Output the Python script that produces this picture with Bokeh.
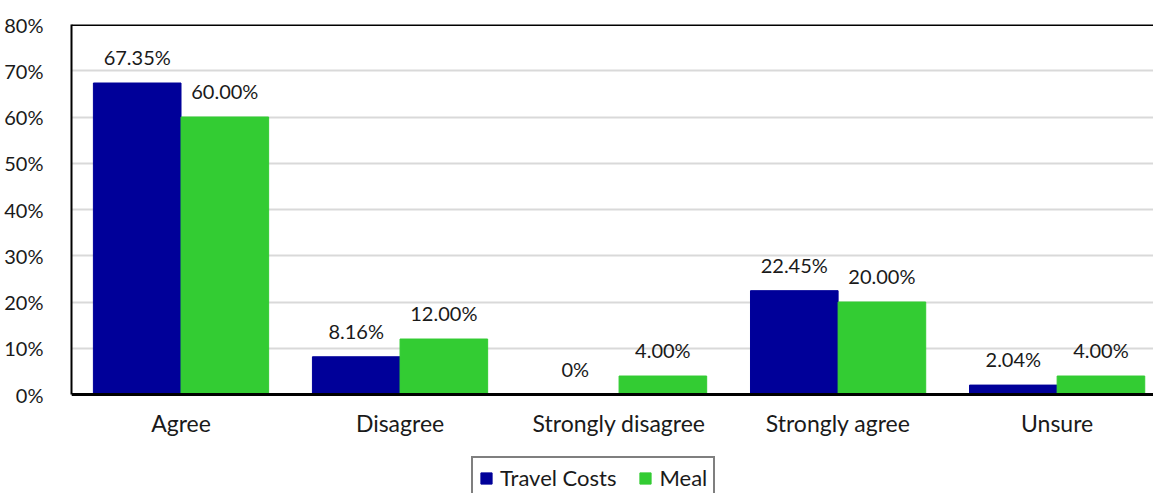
from bokeh.plotting import figure
from bokeh.models import (ColumnDataSource, FixedTicker, PrintfTickFormatter, Span,
                          Legend, LegendItem, Range1d, LabelSet)
from bokeh.transform import dodge
from bokeh.core.properties import value
from bokeh.embed import file_html
from bokeh.resources import INLINE

categories = ["Agree", "Disagree", "Strongly disagree", "Strongly agree", "Unsure"]
travel_costs = [67.35, 8.16, 0.0, 22.45, 2.04]
meal = [60.00, 12.00, 4.00, 20.00, 4.00]
y_ticks = [0, 10, 20, 30, 40, 50, 60, 70, 80]

FONT = "Lato"
TXT = "#1a1a1a"
BLUE = "#000099"
GREEN = "#33cc33"

def fmt(v):
    return "0%" if v == 0 else f"{v:.2f}%"

idx = list(range(len(categories)))
src = ColumnDataSource(dict(
    x=idx, tc=travel_costs, meal=meal,
    tc_lbl=[fmt(v) for v in travel_costs],
    meal_lbl=[fmt(v) for v in meal],
))

W, H = 1153, 493
p = figure(width=W, height=H, output_backend="svg", toolbar_location=None,
           x_range=Range1d(-0.5, 4.44), y_range=Range1d(-21.4, 80),
           min_border_left=71, min_border_right=0, min_border_top=24,
           min_border_bottom=0)
p.outline_line_color = None
p.background_fill_color = "white"

r1 = p.vbar(x=dodge("x", -0.2, range=p.x_range), top="tc", width=0.4, source=src,
            fill_color=BLUE, line_color=BLUE)
r2 = p.vbar(x=dodge("x", 0.2, range=p.x_range), top="meal", width=0.4, source=src,
            fill_color=GREEN, line_color=GREEN)

for col, lbl, off in (("tc", "tc_lbl", -0.2), ("meal", "meal_lbl", 0.2)):
    ls = LabelSet(x=dodge("x", off, range=p.x_range), y=col, text=lbl, source=src,
                  text_align="center", text_baseline="middle", y_offset=26,
                  text_font=value(FONT), text_font_size="20px", text_color=TXT)
    p.add_layout(ls)

p.add_layout(Span(location=80, dimension="width", line_color="black", line_width=3))

p.yaxis.ticker = FixedTicker(ticks=y_ticks)
p.yaxis.bounds = (0, 80)
p.yaxis.formatter = PrintfTickFormatter(format="%d%%")
p.yaxis.major_label_text_font = FONT
p.yaxis.major_label_text_font_size = "20px"
p.yaxis.major_label_text_color = TXT
p.yaxis.major_label_standoff = 22
p.yaxis.major_tick_line_color = None
p.yaxis.minor_tick_line_color = None
p.yaxis.axis_line_color = "black"
p.yaxis.axis_line_width = 2

p.xaxis.fixed_location = 0
p.xaxis.ticker = FixedTicker(ticks=idx)
p.xaxis.major_label_overrides = {i: c for i, c in zip(idx, categories)}
p.xaxis.major_label_text_font = FONT
p.xaxis.major_label_text_font_size = "23px"
p.xaxis.major_label_text_color = TXT
p.xaxis.major_label_standoff = 8
p.xaxis.major_tick_line_color = None
p.xaxis.minor_tick_line_color = None
p.xaxis.axis_line_color = "black"
p.xaxis.axis_line_width = 3

p.xgrid.grid_line_color = None
p.ygrid.ticker = FixedTicker(ticks=y_ticks)
p.ygrid.grid_line_color = "#d9d9d9"
p.ygrid.grid_line_width = 2

legend = Legend(items=[LegendItem(label="Travel Costs", renderers=[r1]),
                       LegendItem(label="Meal", renderers=[r2])],
                orientation="horizontal", location=(400, -6),
                label_text_font=FONT, label_text_font_size="22px",
                label_text_color=TXT, border_line_color="black", border_line_width=2,
                glyph_width=14, glyph_height=14, spacing=22, padding=6,
                margin=0, label_standoff=7)
p.add_layout(legend)

open("out.html", "w").write(file_html(p, INLINE))
